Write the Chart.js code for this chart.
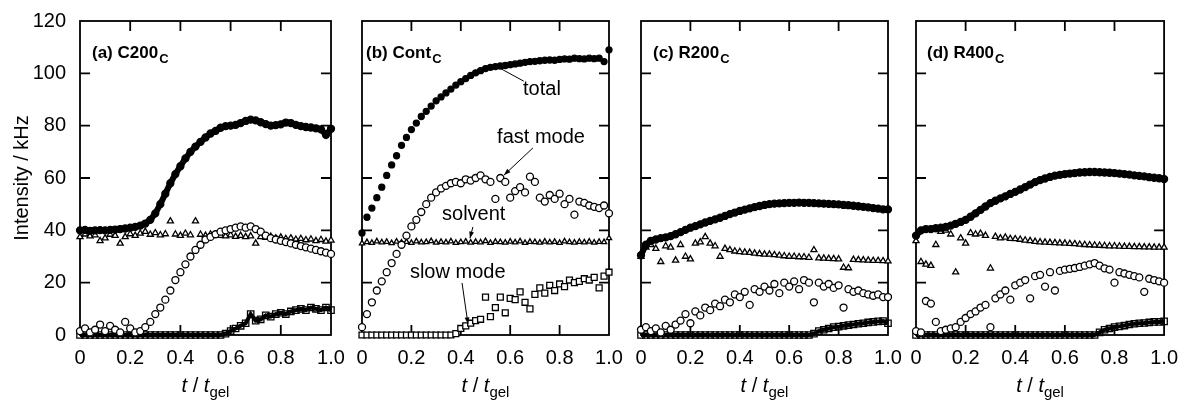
<!DOCTYPE html>
<html>
<head>
<meta charset="utf-8">
<script src="https://cdn.jsdelivr.net/npm/chart.js@4.4.0/dist/chart.umd.min.js"></script>
<style>
  body { margin: 0; background: #fff; }
  #quadro { position: relative; width: 1181px; height: 401px; overflow: hidden; }
  canvas { position: absolute; top: 0; }
</style>
</head>
<body>
<div id="quadro">
  <canvas id="ga" width="350" height="401" style="left:0px"></canvas>
  <canvas id="gb" width="290" height="401" style="left:340px"></canvas>
  <canvas id="gc" width="290" height="401" style="left:620px"></canvas>
  <canvas id="gd" width="286" height="401" style="left:895px"></canvas>
</div>
<script>
// t / t_gel (mesma grade para todas as séries)
const tempo = [0, 0.02, 0.04, 0.06, 0.08, 0.1, 0.12, 0.14, 0.16, 0.18,
  0.2, 0.22, 0.24, 0.26, 0.28, 0.3, 0.32, 0.34, 0.36, 0.38,
  0.4, 0.42, 0.44, 0.46, 0.48, 0.5, 0.52, 0.54, 0.56, 0.58,
  0.6, 0.62, 0.64, 0.66, 0.68, 0.7, 0.72, 0.74, 0.76, 0.78,
  0.8, 0.82, 0.84, 0.86, 0.88, 0.9, 0.92, 0.94, 0.96, 0.98, 1];

const ticksX = [0, 0.2, 0.4, 0.6, 0.8, 1.0];
const ticksY = [0, 20, 40, 60, 80, 100, 120];

// (a) C200C
const totalA = [40.0, 40.2, 39.8, 40.0, 40.1, 40.0, 40.2, 40.3, 40.5, 40.7,
  41.0, 41.3, 41.8, 42.6, 44.0, 46.5, 50.0, 54.0, 58.0, 61.5,
  64.5, 67.5, 70.0, 72.0, 73.8, 75.5, 77.0, 78.0, 79.2, 79.8,
  80.0, 80.3, 81.0, 81.8, 82.3, 82.0, 81.3, 80.6, 80.0, 80.2,
  80.5, 81.2, 81.0, 80.3, 79.8, 79.5, 79.3, 79.0, 78.6, 76.5, 78.8];
const rapidoA = [1.5, 2.5, 1.0, 2.0, 4.0, 1.5, 3.5, 2.0, 1.0, 5.0,
  2.5, 1.0, 1.5, 3.0, 5.0, 8.0, 10.5, 13.5, 17.0, 21.0,
  24.0, 27.0, 30.0, 32.5, 34.5, 36.5, 37.5, 38.5, 39.5, 40.0,
  40.5, 41.0, 41.5, 41.0, 41.5, 40.5, 39.5, 38.0, 37.0, 36.5,
  36.0, 35.5, 35.0, 34.5, 34.0, 33.5, 33.0, 32.5, 32.0, 31.5, 31.0];
const solventeA = [37.5, 38.5, 37.8, 38.2, 36.0, 37.0, 38.4, 38.0, 35.0, 37.5,
  38.6, 38.0, 38.8, 39.5, 38.4, 39.0, 38.2, 38.6, 43.5, 38.5,
  38.0, 38.8, 38.2, 43.5, 38.4, 38.0, 38.5, 38.2, 38.0, 37.8,
  38.2, 37.6, 38.0, 37.5, 37.8, 35.0, 37.5, 37.2, 37.6, 37.0,
  37.3, 36.8, 37.0, 36.5, 36.8, 36.3, 36.6, 36.0, 36.4, 35.8, 36.2];
const lentoA = [0, 0, 0, 0, 0, 0, 0, 0, 0, 0,
  0, 0, 0, 0, 0, 0, 0, 0, 0, 0,
  0, 0, 0, 0, 0, 0, 0, 0, 0, 0.5,
  1.5, 2.5, 3.5, 4.5, 8.0, 5.5, 6.0, 7.5, 7.0, 8.0,
  8.5, 8.0, 9.0, 9.5, 10.0, 9.5, 10.5, 10.0, 9.5, 10.5, 9.5];

// (b) ContC
const totalB = [39.0, 45.0, 48.5, 52.5, 56.5, 61.0, 65.0, 68.5, 72.5, 75.5,
  78.5, 81.0, 83.5, 85.5, 87.5, 89.5, 91.0, 92.5, 94.0, 95.5,
  96.8, 98.0, 99.2, 100.2, 101.0, 101.8, 102.3, 102.6, 102.8, 103.0,
  103.3, 103.6, 103.9, 104.2, 104.5, 104.6, 104.8, 105.0, 105.1, 105.0,
  105.3, 105.5, 105.4, 105.8, 105.6, 105.5, 105.8, 105.6, 105.8, 104.5, 109.0];
const rapidoB = [3.0, 8.0, 12.5, 17.0, 20.5, 24.0, 27.5, 31.0, 34.5, 38.0,
  41.5, 44.0, 47.0, 50.0, 52.5, 54.5, 56.0, 57.0, 58.0, 58.5,
  58.0, 59.5, 59.0, 60.0, 61.0, 59.5, 58.5, 52.0, 60.0, 58.5,
  52.5, 55.0, 56.5, 54.5, 60.5, 58.5, 52.5, 51.0, 53.5, 52.0,
  54.0, 50.0, 52.0, 46.0, 51.0, 50.5, 49.5, 49.0, 48.5, 49.5, 46.5];
const solventeB = [35.0, 35.5, 35.2, 35.8, 35.4, 35.6, 35.1, 35.7, 35.3, 35.6,
  35.2, 35.8, 35.4, 35.5, 35.9, 35.3, 35.6, 35.4, 35.8, 35.2,
  35.5, 35.7, 35.3, 35.6, 35.4, 35.9, 35.2, 35.6, 35.5, 35.3,
  35.7, 35.4, 35.8, 35.2, 35.6, 35.5, 35.3, 35.7, 35.4, 35.6,
  35.2, 35.8, 35.5, 35.3, 35.6, 35.4, 35.7, 35.3, 35.6, 35.5, 37.0];
const lentoB = [0, 0, 0, 0, 0, 0, 0, 0, 0, 0,
  0, 0, 0, 0, 0, 0, 0, 0, 0, 0.5,
  2.5, 3.5, 4.5, 5.5, 6.0, 14.5, 7.0, 10.5, 14.5, 8.5,
  14.0, 13.5, 16.5, 12.5, 10.0, 15.5, 18.0, 16.0, 19.0, 17.0,
  19.5, 18.5, 21.0, 20.0, 20.5, 21.5, 21.0, 22.0, 18.0, 22.5, 24.0];

// (c) R200C
const totalC = [30.5, 34.5, 36.0, 36.5, 37.0, 37.3, 37.8, 38.5, 39.3, 40.2,
  41.0, 41.6, 42.3, 43.0, 43.6, 44.2, 44.8, 45.5, 46.2, 46.8,
  47.4, 47.9, 48.4, 48.9, 49.3, 49.7, 50.0, 50.2, 50.3, 50.4,
  50.5, 50.5, 50.6, 50.5, 50.5, 50.4, 50.3, 50.2, 50.1, 50.0,
  49.9, 49.7, 49.6, 49.4, 49.2, 49.0, 48.8, 48.5, 48.3, 48.0, 48.0];
const rapidoC = [2.0, 3.0, 1.5, 2.5, 1.0, 3.5, 2.0, 4.0, 5.5, 8.0,
  4.5, 9.0, 7.5, 10.5, 9.5, 12.0, 11.0, 13.5, 12.5, 15.5,
  14.5, 16.5, 11.5, 17.5, 16.5, 18.5, 17.0, 19.5, 16.0, 20.0,
  18.5, 20.5, 17.5, 21.0, 20.0, 12.5, 20.0, 18.5, 19.5, 18.0,
  19.0, 10.5, 17.5, 16.5, 17.0, 16.0, 15.5, 15.0, 15.5, 14.5, 14.5];
const solventeC = [30.0, 33.5, 34.5, 33.0, 28.0, 34.0, 33.5, 28.5, 34.5, 30.0,
  29.0, 35.0, 35.5, 37.5, 35.0, 34.0, 30.0, 33.0, 32.5, 32.0,
  31.8, 31.6, 31.5, 31.2, 31.0, 30.8, 30.8, 30.6, 30.4, 30.2,
  30.0, 30.0, 29.8, 29.8, 29.6, 32.5, 29.4, 29.3, 29.2, 29.1,
  29.0, 25.8, 25.6, 28.8, 28.7, 28.6, 28.5, 28.4, 28.4, 28.3, 28.2];
const lentoC = [0, 0, 0, 0, 0, 0, 0, 0, 0, 0,
  0, 0, 0, 0, 0, 0, 0, 0, 0, 0,
  0, 0, 0, 0, 0, 0, 0, 0, 0, 0,
  0, 0, 0, 0, 0, 0.5, 1.5, 2.0, 2.5, 3.0,
  3.2, 3.5, 3.8, 4.0, 4.3, 4.5, 4.8, 5.0, 5.2, 5.3, 4.5];

// (d) R400C
const totalD = [38.0, 40.0, 40.5, 40.5, 40.8, 41.0, 41.3, 41.8, 42.5, 43.2,
  44.0, 45.2, 46.5, 47.8, 49.1, 50.4, 51.3, 52.2, 53.0, 53.9,
  54.7, 55.6, 56.5, 57.5, 58.4, 59.2, 59.8, 60.4, 60.9, 61.2,
  61.5, 61.7, 61.9, 62.1, 62.2, 62.3, 62.3, 62.2, 62.1, 62.0,
  61.9, 61.7, 61.5, 61.3, 61.0, 60.8, 60.6, 60.3, 60.1, 59.9, 59.6];
const rapidoD = [1.5, 1.0, 13.0, 12.0, 5.0, 1.5, 2.0, 2.5, 3.0, 5.0,
  6.5, 8.0, 9.0, 10.5, 11.5, 3.0, 14.0, 15.5, 17.0, 13.5,
  19.0, 20.0, 21.0, 14.0, 22.5, 23.0, 18.5, 24.0, 17.0, 24.5,
  25.0, 25.3, 25.6, 26.0, 26.5, 27.0, 27.5, 26.5, 25.5, 25.0,
  20.0, 24.0, 23.5, 23.0, 22.5, 22.0, 16.5, 21.5, 21.0, 20.5, 20.0];
const solventeD = [36.0, 28.0, 27.0, 26.5, 34.5, 39.5, 40.0, 38.5, 24.0, 37.0,
  35.0, 39.0, 38.5, 38.8, 38.0, 25.5, 37.6, 37.0, 37.3, 36.8,
  36.7, 36.5, 36.2, 36.0, 35.7, 35.5, 35.4, 35.3, 35.2, 35.1,
  35.0, 34.9, 34.8, 34.6, 34.5, 34.4, 34.3, 34.2, 34.1, 34.0,
  34.0, 33.9, 33.8, 33.8, 33.7, 33.7, 33.6, 33.6, 33.5, 33.5, 33.5];
const lentoD = [0, 0, 0, 0, 0, 0, 0, 0, 0, 0,
  0, 0, 0, 0, 0, 0, 0, 0, 0, 0,
  0, 0, 0, 0, 0, 0, 0, 0, 0, 0,
  0, 0, 0, 0, 0, 0, 0, 1.0, 2.0, 2.5,
  3.0, 3.3, 3.6, 4.0, 4.3, 4.5, 4.6, 4.8, 5.0, 5.0, 5.2];

const FONTE = "'Liberation Sans', Arial, Helvetica, sans-serif";
Chart.defaults.font.family = FONTE;
Chart.defaults.color = '#000';

function pontos(ys) {
  return tempo.map((t, i) => ({ x: t, y: ys[i] }));
}

// nos painéis densos os pontos quase se fundem numa faixa escura
function conjuntos(total, rapido, solvente, lento, denso) {
  const base = { borderColor: '#000', pointBorderColor: '#000', pointBorderWidth: 1.3, clip: false };
  return [
    { ...base, label: 'total', data: pontos(total), pointStyle: 'circle',
      pointRadius: denso ? 3.5 : 3, pointBackgroundColor: '#000',
      showLine: denso, borderWidth: 6 },
    { ...base, label: 'fast mode', data: pontos(rapido), pointStyle: 'circle',
      pointRadius: 3.5, pointBackgroundColor: '#fff' },
    { ...base, label: 'solvent', data: pontos(solvente), pointStyle: 'triangle',
      pointRadius: denso ? 3.5 : 3, pointBackgroundColor: '#fff' },
    { ...base, label: 'slow mode', data: pontos(lento), pointStyle: 'rect',
      pointRadius: denso ? 4.5 : 4.2,
      pointBackgroundColor: denso ? 'rgba(255,255,255,0)' : '#fff',
      showLine: denso, borderWidth: 4 }
  ];
}

function seta(ctx, x1, y1, x2, y2, ponta) {
  ctx.beginPath();
  ctx.moveTo(x1, y1);
  ctx.lineTo(x2, y2);
  ctx.stroke();
  if (!ponta) return;
  const ang = Math.atan2(y2 - y1, x2 - x1);
  ctx.beginPath();
  ctx.moveTo(x2, y2);
  ctx.lineTo(x2 - 7 * Math.cos(ang - 0.35), y2 - 7 * Math.sin(ang - 0.35));
  ctx.lineTo(x2 - 7 * Math.cos(ang + 0.35), y2 - 7 * Math.sin(ang + 0.35));
  ctx.closePath();
  ctx.fill();
}

// moldura, marcas internas, rótulos do painel e título do eixo x
const moldura = {
  id: 'moldura',
  beforeDatasetsDraw(chart) {
    const { ctx, chartArea: a, scales: { x, y } } = chart;
    ctx.save();
    ctx.strokeStyle = '#000';
    ctx.lineWidth = 1.8;
    ctx.strokeRect(a.left, a.top, a.width, a.height);
    ctx.beginPath();
    x.ticks.forEach(t => {
      if (t.value <= 0 || t.value >= 1) return;
      const px = x.getPixelForValue(t.value);
      ctx.moveTo(px, a.bottom); ctx.lineTo(px, a.bottom - 10);
      ctx.moveTo(px, a.top); ctx.lineTo(px, a.top + 10);
    });
    y.ticks.forEach(t => {
      if (t.value <= 0 || t.value >= 120) return;
      const py = y.getPixelForValue(t.value);
      ctx.moveTo(a.left, py); ctx.lineTo(a.left + 10, py);
      ctx.moveTo(a.right, py); ctx.lineTo(a.right - 10, py);
    });
    ctx.stroke();
    ctx.restore();
  },
  afterDraw(chart, args, opts) {
    const { ctx, chartArea: a, scales: { x, y } } = chart;
    ctx.save();
    ctx.fillStyle = '#000';
    ctx.strokeStyle = '#000';
    ctx.textBaseline = 'alphabetic';

    // rótulo do painel, com índice C
    ctx.font = 'bold 17px ' + FONTE;
    const x0 = a.left + opts.recuo;
    ctx.fillText(opts.rotulo, x0, a.top + 37);
    const w = ctx.measureText(opts.rotulo).width;
    ctx.font = 'bold 13px ' + FONTE;
    ctx.fillText('C', x0 + w + 1, a.top + 42);

    // t / t_gel
    const partes = [
      { t: 't', f: 'italic 20px ', dy: 0 },
      { t: ' / ', f: '20px ', dy: 0 },
      { t: 't', f: 'italic 20px ', dy: 0 },
      { t: 'gel', f: '15px ', dy: 5 }
    ];
    let larg = 0;
    partes.forEach(p => { ctx.font = p.f + FONTE; p.w = ctx.measureText(p.t).width; larg += p.w; });
    let cx = (a.left + a.right) / 2 - larg / 2;
    partes.forEach(p => { ctx.font = p.f + FONTE; ctx.fillText(p.t, cx, 392 + p.dy); cx += p.w; });

    // anotações
    ctx.font = '20px ' + FONTE;
    ctx.lineWidth = 1;
    (opts.notas || []).forEach(n => {
      ctx.fillText(n.texto, x.getPixelForValue(n.x), y.getPixelForValue(n.y));
      seta(ctx, x.getPixelForValue(n.de[0]), y.getPixelForValue(n.de[1]),
        x.getPixelForValue(n.para[0]), y.getPixelForValue(n.para[1]), n.ponta);
    });
    ctx.restore();
  }
};

function gerarPainel(id, rotulo, series, geo) {
  new Chart(document.getElementById(id), {
    type: 'scatter',
    data: { datasets: series },
    options: {
      responsive: false,
      animation: false,
      events: [],
      layout: { padding: { top: 21, right: geo.direita, bottom: 0, left: 0 } },
      plugins: {
        legend: { display: false },
        tooltip: { enabled: false },
        moldura: { rotulo: rotulo, recuo: geo.recuo, notas: geo.notas }
      },
      scales: {
        x: {
          type: 'linear', min: 0, max: 1,
          afterFit: s => { s.height = 66; },
          afterBuildTicks: s => { s.ticks = ticksX.map(v => ({ value: v })); },
          grid: { display: false },
          border: { display: false },
          ticks: {
            padding: 3, maxRotation: 0, autoSkip: false,
            font: { size: 20 },
            callback: v => v === 0 ? '0' : v.toFixed(1)
          }
        },
        y: {
          type: 'linear', min: 0, max: 120,
          afterFit: s => { s.width = geo.esquerda; },
          afterBuildTicks: s => { s.ticks = ticksY.map(v => ({ value: v })); },
          grid: { display: false },
          border: { display: false },
          ticks: { display: geo.rotulosY, padding: 6, font: { size: 20 } },
          title: {
            display: geo.rotulosY, text: 'Intensity / kHz',
            font: { size: 20 }, padding: { top: 10, bottom: 0 }
          }
        }
      }
    },
    plugins: [moldura]
  });
}

gerarPainel('ga', '(a) C200', conjuntos(totalA, rapidoA, solventeA, lentoA, true),
  { esquerda: 80, direita: 19, recuo: 12, rotulosY: true });
gerarPainel('gb', '(b) Cont', conjuntos(totalB, rapidoB, solventeB, lentoB, false),
  { esquerda: 22, direita: 21, recuo: 4, rotulosY: false, notas: [
    { texto: 'total', x: 0.652, y: 91.7, de: [0.655, 97.0], para: [0.55, 102.4], ponta: false },
    { texto: 'fast mode', x: 0.547, y: 73.4, de: [0.692, 71.5], para: [0.575, 61.1], ponta: true },
    { texto: 'solvent', x: 0.324, y: 43.9, de: [0.449, 41.3], para: [0.437, 37.0], ponta: true },
    { texto: 'slow mode', x: 0.194, y: 21.8, de: [0.405, 19.9], para: [0.429, 4.2], ponta: true }
  ] });
gerarPainel('gc', '(c) R200', conjuntos(totalC, rapidoC, solventeC, lentoC, true),
  { esquerda: 21, direita: 22, recuo: 12, rotulosY: false });
gerarPainel('gd', '(d) R400', conjuntos(totalD, rapidoD, solventeD, lentoD, true),
  { esquerda: 21, direita: 16, recuo: 11, rotulosY: false });
</script>
</body>
</html>
